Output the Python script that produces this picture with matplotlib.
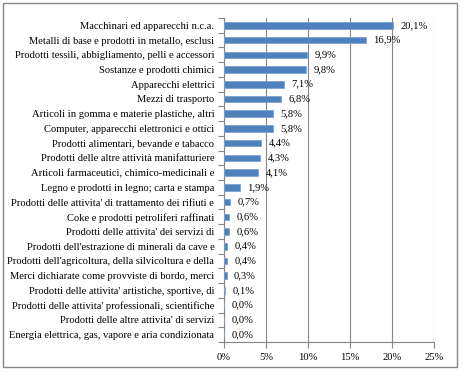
import matplotlib
matplotlib.use("Agg")
import matplotlib.pyplot as plt
from matplotlib.patches import Rectangle
import numpy as np

categories = [
    "Macchinari ed apparecchi n.c.a.",
    "Metalli di base e prodotti in metallo, esclusi",
    "Prodotti tessili, abbigliamento, pelli e accessori",
    "Sostanze e prodotti chimici",
    "Apparecchi elettrici",
    "Mezzi di trasporto",
    "Articoli in gomma e materie plastiche, altri",
    "Computer, apparecchi elettronici e ottici",
    "Prodotti alimentari, bevande e tabacco",
    "Prodotti delle altre attività manifatturiere",
    "Articoli farmaceutici, chimico-medicinali e",
    "Legno e prodotti in legno; carta e stampa",
    "Prodotti delle attivita' di trattamento dei rifiuti e",
    "Coke e prodotti petroliferi raffinati",
    "Prodotti delle attivita' dei servizi di",
    "Prodotti dell'estrazione di minerali da cave e",
    "Prodotti dell'agricoltura, della silvicoltura e della",
    "Merci dichiarate come provviste di bordo, merci",
    "Prodotti delle attivita' artistiche, sportive, di",
    "Prodotti delle attivita' professionali, scientifiche",
    "Prodotti delle altre attivita' di servizi",
    "Energia elettrica, gas, vapore e aria condizionata",
]
values = [20.1, 16.9, 9.9, 9.8, 7.1, 6.8, 5.8, 5.8, 4.4, 4.3, 4.1, 1.9,
          0.7, 0.6, 0.6, 0.4, 0.4, 0.3, 0.1, 0.0, 0.0, 0.0]
xticks = [0, 5, 10, 15, 20, 25]

W, H = 464, 373
fig = plt.figure(figsize=(W/100, H/100), dpi=100)
plt.rcParams['font.family'] = ['Liberation Serif', 'DejaVu Serif']
fs = 7.6

# outer border
fig.patches.append(Rectangle((3/W, 1 - 367/H), (457-3)/W, (367-3)/H,
                             transform=fig.transFigure, fill=False,
                             edgecolor='#868686', linewidth=1.0))

left, right, top, bottom = 224, 434, 18, 342
ax = fig.add_axes([left/W, 1 - bottom/H, (right-left)/W, (bottom-top)/H])

n = len(categories)
y = np.arange(n)
ax.barh(y, values, height=0.45, color='#4F81BD', edgecolor='#7EA3D0', linewidth=0.6, zorder=3)
ax.set_ylim(n - 0.5, -0.5)
ax.set_xlim(0, 25)
ax.set_xticks(xticks)
ax.set_xticklabels([f"{t}%" for t in xticks], fontsize=fs)
ax.set_yticks(y)
ax.set_yticklabels(categories, fontsize=fs)
ax.tick_params(axis='y', length=0, pad=7)
ax.set_yticks(np.arange(-0.5, n, 1), minor=True)
ax.tick_params(axis='y', which='minor', length=4, color='#868686', width=0.8)
ax.tick_params(axis='x', length=4, color='#868686', width=0.8, pad=4, direction='out')
ax.grid(axis='x', color='#868686', linewidth=0.8, zorder=0)
for s in ['top', 'right']:
    ax.spines[s].set_visible(False)
ax.spines['left'].set_color('#868686')
ax.spines['bottom'].set_color('#868686')
ax.spines['left'].set_linewidth(0.8)
ax.spines['bottom'].set_linewidth(0.8)

for yi, v in zip(y, values):
    ax.text(v + 0.9, yi, f"{v:.1f}%".replace('.', ','), va='center', ha='left',
            fontsize=fs, zorder=4)

fig.savefig("out.png", dpi=100)
